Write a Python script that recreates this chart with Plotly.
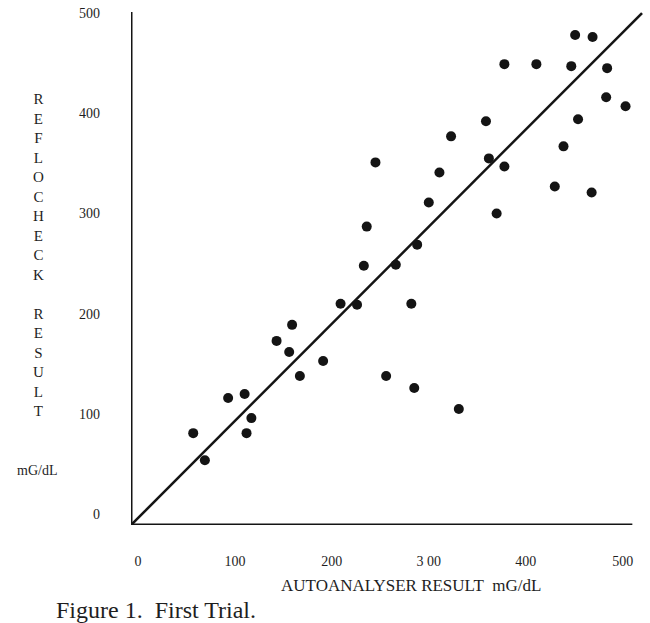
import plotly.graph_objects as go

# Autoanalyser vs Reflocheck results, mG/dL
auto_result = [451, 469, 378, 411, 447, 484, 483, 503, 359, 454,
               323, 439, 245, 362, 378, 311, 430, 468, 300, 370,
               236, 288, 233, 266, 209, 226, 282, 159, 143, 156,
               191, 167, 93, 110, 117, 112, 57, 69, 256, 285, 331]
refl_result = [478, 476, 449, 449, 447, 445, 416, 407, 392, 394,
               377, 367, 351, 355, 347, 341, 327, 321, 311, 300,
               287, 269, 248, 249, 210, 209, 210, 189, 173, 162,
               153, 138, 116, 120, 96, 81, 81, 54, 138, 126, 105]

# fitted line as drawn (ends of the line)
line_x = [-7, 520]
line_y = [-10.5, 500]

tick_vals = [0, 100, 200, 300, 400, 500]
x_tick_text = ["0", "100", "200", "3 00", "400", "500"]
y_tick_text = ["0", "100", "200", "300", "400", "500"]

y_title = ["REFLOCHECK", "RESULT"]

serif = "Liberation Serif, Times New Roman, serif"
ink = "#141414"
text_col = "#1e1e1e"

W, H = 650, 623
pl, pr, pt, pb = 131, 7, 11, 98
pw, ph = W - pl - pr, H - pt - pb

fig = go.Figure()
fig.add_trace(go.Scatter(x=line_x, y=line_y, mode="lines",
                         line=dict(color=ink, width=2.5), hoverinfo="skip"))
fig.add_trace(go.Scatter(x=auto_result, y=refl_result, mode="markers",
                         marker=dict(color=ink, size=10)))

x0, y0 = -7.2, -10.6
# axis lines, drawn by hand like the original
fig.add_shape(type="line", x0=x0, x1=x0, y0=y0, y1=501,
              line=dict(color=ink, width=3))
fig.add_shape(type="line", x0=x0, x1=510, y0=y0, y1=y0,
              line=dict(color=ink, width=3))


def px_note(text, x, y, size):
    # place a text centred on a pixel position of the page
    fig.add_annotation(text=text, x=(x - pl) / pw, y=(H - pb - y) / ph,
                       xref="paper", yref="paper", showarrow=False,
                       xanchor="center", yanchor="middle",
                       font=dict(family=serif, size=size, color=text_col))


# y title as a column of letters, blank line between the two words
stacked = "<br>&nbsp;<br>".join("<br>".join(word) for word in y_title)
px_note(stacked, 38, 255, 15)
px_note("mG/dL", 37, 470, 14)
px_note("AUTOANALYSER RESULT&nbsp;&nbsp;mG/dL", 411, 585, 17)
px_note("Figure 1.&nbsp;&nbsp;First Trial.", 156, 610, 24)

fig.update_layout(
    width=W, height=H,
    margin=dict(l=pl, r=pr, t=pt, b=pb),
    paper_bgcolor="white", plot_bgcolor="white",
    showlegend=False,
    font=dict(family=serif, color=text_col, size=14),
    xaxis=dict(range=[x0, 521], tickvals=tick_vals, ticktext=x_tick_text,
               showgrid=False, zeroline=False, showline=False, ticks="",
               ticklabelstandoff=26, tickfont=dict(size=14)),
    yaxis=dict(range=[y0, 502], tickvals=tick_vals, ticktext=y_tick_text,
               showgrid=False, zeroline=False, showline=False, ticks="",
               ticklabelstandoff=30, tickfont=dict(size=14)),
)

fig.write_html("out.html", config={"displayModeBar": False},
               post_script="document.body.style.margin='0';")
